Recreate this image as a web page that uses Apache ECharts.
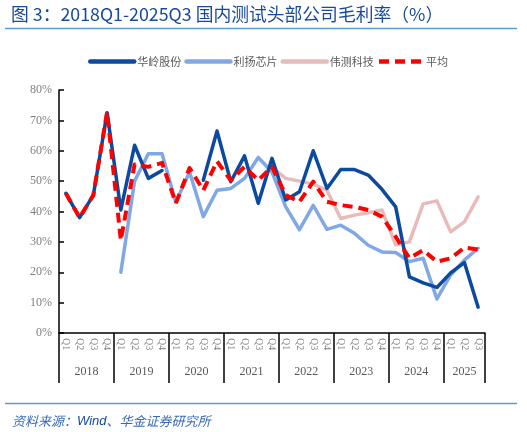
<!DOCTYPE html>
<html>
<head>
<meta charset="utf-8">
<script src="https://cdn.jsdelivr.net/npm/echarts@6/dist/echarts.min.js"></script>
<style>html,body{margin:0;padding:0;background:#fff;}#c{width:527px;height:432px;}</style>
</head>
<body>
<div id="c"></div>
<script>
var years = ['2018','2019','2020','2021','2022','2023','2024','2025'];
var quarters = ['Q1','Q2','Q3','Q4','Q1','Q2','Q3','Q4','Q1','Q2','Q3','Q4','Q1','Q2','Q3','Q4',
  'Q1','Q2','Q3','Q4','Q1','Q2','Q3','Q4','Q1','Q2','Q3','Q4','Q1','Q2','Q3'];
var yearBounds = [0,4,8,12,16,20,24,28,31];
var yearCenters = [2,6,10,14,18,22,26,29.5];

var hualing = [46,38,45.4,72.5, 40.5,61.8,50.9,53.5, null,null,50.3,66.5, 49.8,58.3,42.7,57.5,
  43.8,46.5,60,47.6, 53.8,53.8,52,47.3, 41.5,18.5,16.5,15, 19.8,23.2,8.5];
var liyang = [null,null,null,null, 20,50,59,59, 43,53,38.3,47, 47.6,50.9,57.8,53,
  41.5,34,42,34.1, 35.5,32.8,28.9,26.7, 26.5,23.5,24.6,11.2, 19.1,24,27.9];
var weice = [null,null,null,null, null,null,null,null, null,null,null,null, null,null,null,54.5,
  50.9,50,49,47, 37.7,38.8,39.6,40.5, 29,30,42.5,43.5, 33.3,36.6,44.8];
var average = [46,38,45.4,72.8, 30.5,55.5,54.7,56, 42.7,54.3,47,56.5, 50.3,54.7,50.3,54.7,
  45.4,43.2,49.8,43.2, 42.1,41.5,40.5,38.3, 31.7,24.6,27.3,23.5, 24.6,28.1,27.5];

var names = ['华岭股份','利扬芯片','伟测科技','平均'];
var colors = ['#0B4A9E','#7FA8E4','#E8BBBB','#FF0000'];

var chart = echarts.init(document.getElementById('c'), null, {renderer:'canvas'});
function lineSeries(i, data, dashed){
  return {
    name: names[i], type:'line', data:data, xAxisIndex:0, yAxisIndex:0,
    symbol:'none', smooth:false, connectNulls:false,
    lineStyle:{color:colors[i], width: dashed?4:3.5, type: dashed?[10,6]:'solid', cap: dashed?'butt':'round', join:'round'},
    itemStyle:{color:colors[i]}, z: 10 - i + (dashed?5:0)
  };
}
var option = {
  animation:false,
  backgroundColor:'#fff',
  title:[{
    text:'图 3：2018Q1-2025Q3 国内测试头部公司毛利率（%）',
    left:6, top:0,
    textStyle:{fontSize:17.8, fontWeight:'normal', color:'#174A9A', fontFamily:'"Noto Sans CJK SC", "Noto Sans", sans-serif'}
  },{
    text:'{a|资料来源：}{b|Wind}{a|、华金证券研究所}',
    left:7, top:410,
    textStyle:{fontWeight:'normal', rich:{
      a:{fontSize:13, fontStyle:'italic', fontWeight:'normal', color:'#3A6AB5', fontFamily:'"Noto Sans CJK SC", sans-serif'},
      b:{fontSize:13, fontStyle:'italic', fontWeight:'normal', color:'#134A9C', fontFamily:'Arial, "Liberation Sans", sans-serif'}
    }}
  }],
  graphic:[
    {type:'line', shape:{x1:5,y1:28.5,x2:517,y2:28.5}, style:{stroke:'#5B9BD5', lineWidth:1.5}},
    {type:'line', shape:{x1:5,y1:403.5,x2:517,y2:403.5}, style:{stroke:'#5B9BD5', lineWidth:1.5}}
  ],
  legend:{
    data:names, left:83, top:51, itemWidth:44, itemHeight:12, itemGap:3,
    itemStyle:{opacity:0, borderWidth:0},
    lineStyle:{width:4.5},
    textStyle:{fontSize:11, color:'#595959', fontFamily:'"Noto Sans CJK SC", serif', padding:[0,0,0,-2]}
  },
  grid:{left:59, right:42, top:90, bottom:99, containLabel:false},
  xAxis:[{
    type:'category', data:quarters, boundaryGap:true, position:'bottom',
    axisLine:{show:true, lineStyle:{color:'#000', width:1.5}},
    axisTick:{show:false},
    axisLabel:{interval:0, rotate:-90, margin:5, fontSize:10, color:'#7F7F7F', fontFamily:'"Liberation Serif", serif'},
    splitLine:{show:false}
  },{
    type:'value', min:0, max:31, position:'bottom',
    axisLine:{show:false},
    axisTick:{show:true, customValues:yearBounds, length:50, lineStyle:{color:'#000', width:1.5}},
    axisLabel:{customValues:yearCenters, margin:33, fontSize:12, color:'#595959', fontFamily:'"Liberation Serif", serif',
      formatter:function(v){ return years[Math.floor(v/4)]; }},
    splitLine:{show:false}
  }],
  yAxis:{
    type:'value', min:0, max:80, interval:10,
    axisLine:{show:true, lineStyle:{color:'#000', width:1.5}},
    axisTick:{show:true, inside:true, length:5, lineStyle:{color:'#000', width:1.5}},
    axisLabel:{formatter:'{value}%', margin:7, fontSize:12, color:'#7F7F7F', fontFamily:'"Liberation Serif", serif'},
    splitLine:{show:false}
  },
  series:[
    lineSeries(0, hualing, false),
    lineSeries(1, liyang, false),
    lineSeries(2, weice, false),
    lineSeries(3, average, true)
  ]
};
chart.setOption(option);
</script>
</body>
</html>
